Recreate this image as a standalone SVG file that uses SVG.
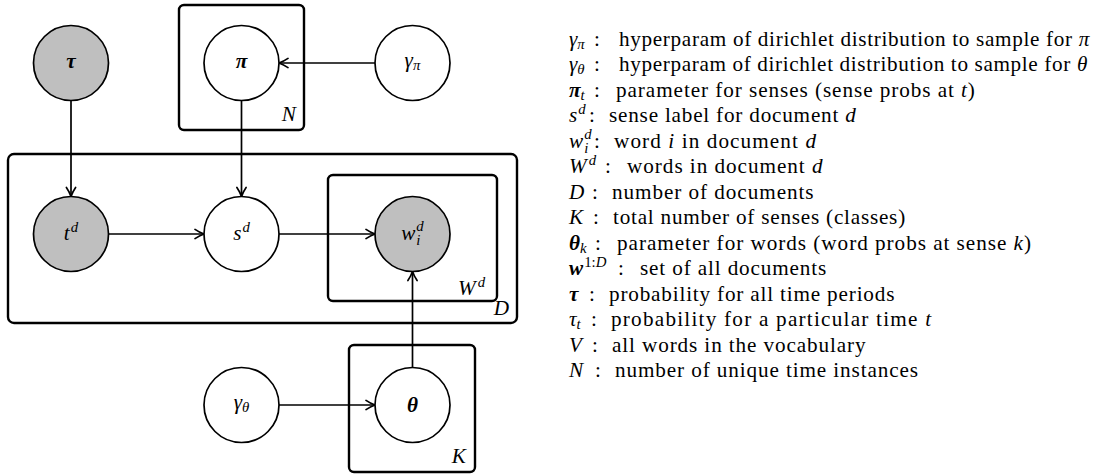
<svg xmlns="http://www.w3.org/2000/svg" width="1110" height="475" viewBox="0 0 1110 475">
<style>
  text { font-family: 'Liberation Serif', 'DejaVu Serif', serif; font-size: 21.2px; fill: #000; }
  .m { font-style: italic; }
  .b { font-style: italic; font-weight: bold; }
  .s { font-size: 14.8px; }
  .lbl { text-anchor: middle; }
  .lat { fill: #fff; stroke: #000; stroke-width: 1.7; }
  .obs { fill: #bfbfbf; stroke: #000; stroke-width: 1.7; }
  .plate { fill: none; stroke: #000; stroke-width: 2.4; }
  .conn line { stroke: #000; stroke-width: 1.7; marker-end: url(#arr); }
  .plab { font-style: italic; text-anchor: end; }
</style>
<defs>
  <marker id="arr" markerUnits="userSpaceOnUse" viewBox="-12 -7 14 14" refX="0" refY="0" markerWidth="14" markerHeight="14" orient="auto">
    <path d="M-9,-4.6 C-5.5,-2.2 -2,-0.7 0,0 C-2,0.7 -5.5,2.2 -9,4.6" fill="none" stroke="#000" stroke-width="1.7" stroke-linecap="round" stroke-linejoin="round"/>
  </marker>
</defs>

<!-- plates -->
<g id="plate-N">
  <rect class="plate" x="179" y="5" width="125" height="125" rx="5"/>
  <text class="plab" x="296" y="121">N</text>
</g>
<g id="plate-D">
  <rect class="plate" x="8" y="154" width="509" height="169" rx="6"/>
  <text class="plab" x="509" y="315">D</text>
</g>
<g id="plate-Wd">
  <rect class="plate" x="328" y="175" width="169" height="126" rx="5"/>
  <text x="458" y="295"><tspan class="m">W</tspan><tspan class="m s" dx="2" dy="-8">d</tspan></text>
</g>
<g id="plate-K">
  <rect class="plate" x="349" y="345" width="126" height="127" rx="5"/>
  <text class="plab" x="466" y="463">K</text>
</g>

<!-- connectors -->
<g id="connectors" class="conn">
  <line x1="71" y1="100.5" x2="71" y2="196.5"/>
  <line x1="241.5" y1="100.5" x2="241.5" y2="196.5"/>
  <line x1="375" y1="63" x2="279" y2="63"/>
  <line x1="108.5" y1="234" x2="204" y2="234"/>
  <line x1="279" y1="234" x2="375" y2="234"/>
  <line x1="412.5" y1="367.5" x2="412.5" y2="271.5"/>
  <line x1="279" y1="405" x2="375" y2="405"/>
</g>

<!-- nodes -->
<g id="node-tau">
  <circle class="obs" cx="71" cy="63" r="37.5"/>
  <text class="lbl b" x="71" y="68">τ</text>
</g>
<g id="node-pi">
  <circle class="lat" cx="241.5" cy="63" r="37.5"/>
  <text class="lbl b" x="241.5" y="68">π</text>
</g>
<g id="node-gamma-pi">
  <circle class="lat" cx="412.5" cy="63" r="37.5"/>
  <text class="lbl" x="412.5" y="67"><tspan class="m">γ</tspan><tspan class="m s" dy="3">π</tspan></text>
</g>
<g id="node-td">
  <circle class="obs" cx="71" cy="234" r="37.5"/>
  <text class="lbl" x="71" y="240"><tspan class="m">t</tspan><tspan class="m s" dx="1" dy="-8">d</tspan></text>
</g>
<g id="node-sd">
  <circle class="lat" cx="241.5" cy="234" r="37.5"/>
  <text class="lbl" x="241.5" y="240"><tspan class="m">s</tspan><tspan class="m s" dx="1" dy="-8">d</tspan></text>
</g>
<g id="node-wid">
  <circle class="obs" cx="412.5" cy="234" r="37.5"/>
  <text class="lbl" x="412.5" y="240"><tspan class="m">w</tspan><tspan class="m s" dx="1" dy="-9">d</tspan><tspan class="m s" dx="-7.4" dy="14">i</tspan></text>
</g>
<g id="node-theta">
  <circle class="lat" cx="412.5" cy="405" r="37.5"/>
  <text class="lbl b" x="412.5" y="412">θ</text>
</g>
<g id="node-gamma-theta">
  <circle class="lat" cx="241.5" cy="405" r="37.5"/>
  <text class="lbl" x="241.5" y="409"><tspan class="m">γ</tspan><tspan class="m s" dy="3">θ</tspan></text>
</g>

<!-- legend -->
<g id="legend">
  <text x="569" y="45.5"><tspan class="m">γ</tspan><tspan class="m s" dy="3">π</tspan></text>
  <text x="594" y="45.5">:</text>
  <text x="619" y="45.5" textLength="470.4">hyperparam of dirichlet distribution to sample for <tspan class="m">π</tspan></text>

  <text x="569" y="71"><tspan class="m">γ</tspan><tspan class="m s" dy="3">θ</tspan></text>
  <text x="594" y="71">:</text>
  <text x="619" y="71" textLength="468.3">hyperparam of dirichlet distribution to sample for <tspan class="m">θ</tspan></text>

  <text x="569" y="96.5"><tspan class="b">π</tspan><tspan class="m s" dy="3">t</tspan></text>
  <text x="594" y="96.5">:</text>
  <text x="616" y="96.5" textLength="358.9">parameter for senses (sense probs at <tspan class="m">t</tspan>)</text>

  <text x="569" y="122"><tspan class="m">s</tspan><tspan class="m s" dx="1" dy="-8">d</tspan></text>
  <text x="589" y="122">:</text>
  <text x="609" y="122" textLength="246.8">sense label for document <tspan class="m">d</tspan></text>

  <text x="569" y="147.5"><tspan class="m">w</tspan><tspan class="m s" dx="1" dy="-9">d</tspan><tspan class="m s" dx="-7.4" dy="14">i</tspan></text>
  <text x="594" y="147.5">:</text>
  <text x="614" y="147.5" textLength="202">word <tspan class="m">i</tspan> in document <tspan class="m">d</tspan></text>

  <text x="569" y="173"><tspan class="m">W</tspan><tspan class="m s" dx="2" dy="-8">d</tspan></text>
  <text x="605" y="173">:</text>
  <text x="627" y="173" textLength="195.5">words in document <tspan class="m">d</tspan></text>

  <text x="569" y="198.5" class="m">D</text>
  <text x="592" y="198.5">:</text>
  <text x="612" y="198.5" textLength="201.6">number of documents</text>

  <text x="569" y="224" class="m">K</text>
  <text x="593" y="224">:</text>
  <text x="613" y="224" textLength="292.2">total number of senses (classes)</text>

  <text x="569" y="249.5"><tspan class="b">θ</tspan><tspan class="m s" dy="3">k</tspan></text>
  <text x="595" y="249.5">:</text>
  <text x="617" y="249.5" textLength="414">parameter for words (word probs at sense <tspan class="m">k</tspan>)</text>

  <text x="569" y="275"><tspan class="b">w</tspan><tspan class="s" dx="1" dy="-8">1:</tspan><tspan class="m s">D</tspan></text>
  <text x="618" y="275">:</text>
  <text x="640" y="275" textLength="186.3">set of all documents</text>

  <text x="569" y="300.5" class="b">τ</text>
  <text x="589" y="300.5">:</text>
  <text x="609" y="300.5" textLength="285.4">probability for all time periods</text>

  <text x="569" y="326"><tspan class="m">τ</tspan><tspan class="m s" dy="3">t</tspan></text>
  <text x="591" y="326">:</text>
  <text x="611" y="326" textLength="320.1">probability for a particular time <tspan class="m">t</tspan></text>

  <text x="569" y="351.5" class="m">V</text>
  <text x="592" y="351.5">:</text>
  <text x="612" y="351.5" textLength="253.5">all words in the vocabulary</text>

  <text x="569" y="377" class="m">N</text>
  <text x="595" y="377">:</text>
  <text x="615" y="377" textLength="303">number of unique time instances</text>
</g>
</svg>
